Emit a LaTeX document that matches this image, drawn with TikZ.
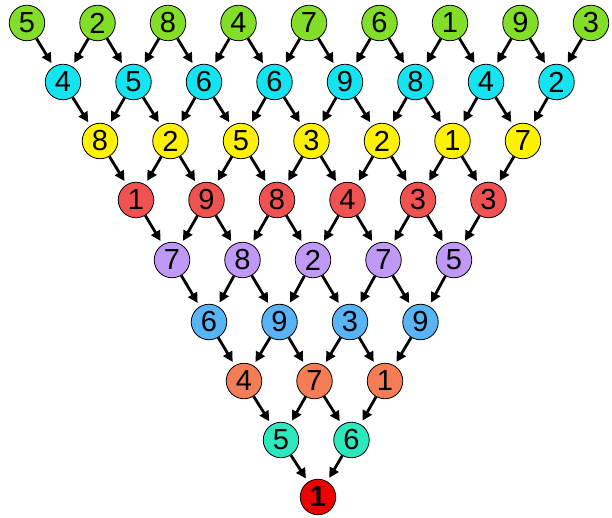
\documentclass[tikz,border=0pt]{standalone}
\usepackage{fontspec}
\setmainfont{Liberation Sans}
\usetikzlibrary{arrows.meta}

\definecolor{rowA}{RGB}{130,222,40}
\definecolor{rowB}{RGB}{20,228,240}
\definecolor{rowC}{RGB}{255,242,0}
\definecolor{rowD}{RGB}{240,82,82}
\definecolor{rowE}{RGB}{192,152,245}
\definecolor{rowF}{RGB}{88,180,245}
\definecolor{rowG}{RGB}{245,125,85}
\definecolor{rowH}{RGB}{45,232,190}
\definecolor{rowI}{RGB}{238,0,0}

\begin{document}
\begin{tikzpicture}[
  x=1pt, y=-1pt,
  ball/.style={circle, draw, line width=0.8pt, minimum size=35.5pt, inner sep=0pt,
               font=\fontsize{29}{29}\selectfont},
  arr/.style={-{Triangle[length=10pt,width=10pt]}, line width=2.8pt, shorten >=4pt}
]
\useasboundingbox (0,0) rectangle (612,518);

% --- Nós (linha por linha) ---
\foreach \v [count=\k from 0] in {5,2,8,4,7,6,1,9,3}
  \node[ball, fill=rowA] (n0-\k) at ({27+70.5*\k},23) {\v};
\foreach \v [count=\k from 0] in {4,5,6,6,9,8,4,2}
  \node[ball, fill=rowB] (n1-\k) at ({63+70.5*\k},82) {\v};
\foreach \v [count=\k from 0] in {8,2,5,3,2,1,7}
  \node[ball, fill=rowC] (n2-\k) at ({100+70.5*\k},141) {\v};
\foreach \v [count=\k from 0] in {1,9,8,4,3,3}
  \node[ball, fill=rowD] (n3-\k) at ({136+70.5*\k},200) {\v};
\foreach \v [count=\k from 0] in {7,8,2,7,5}
  \node[ball, fill=rowE] (n4-\k) at ({172+70.5*\k},260) {\v};
\foreach \v [count=\k from 0] in {6,9,3,9}
  \node[ball, fill=rowF] (n5-\k) at ({209+70.5*\k},322) {\v};
\foreach \v [count=\k from 0] in {4,7,1}
  \node[ball, fill=rowG] (n6-\k) at ({244+70.5*\k},381) {\v};
\foreach \v [count=\k from 0] in {5,6}
  \node[ball, fill=rowH] (n7-\k) at ({281+70.5*\k},440) {\v};
\node[ball, fill=rowI, font=\fontsize{29}{29}\selectfont\bfseries] (n8-0) at (318,497) {1};

% --- Setas ---
\foreach \r in {0,...,7} {
  \pgfmathtruncatemacro\s{\r+1}
  \pgfmathtruncatemacro\m{8-\r}
  \pgfmathtruncatemacro\mm{7-\r}
  \foreach \k in {1,...,\m} {
    \pgfmathtruncatemacro\j{\k-1}
    \draw[arr] (n\r-\k) -- (n\s-\j);
  }
  \foreach \k in {0,...,\mm}
    \draw[arr] (n\r-\k) -- (n\s-\k);
}

\end{tikzpicture}
\end{document}
